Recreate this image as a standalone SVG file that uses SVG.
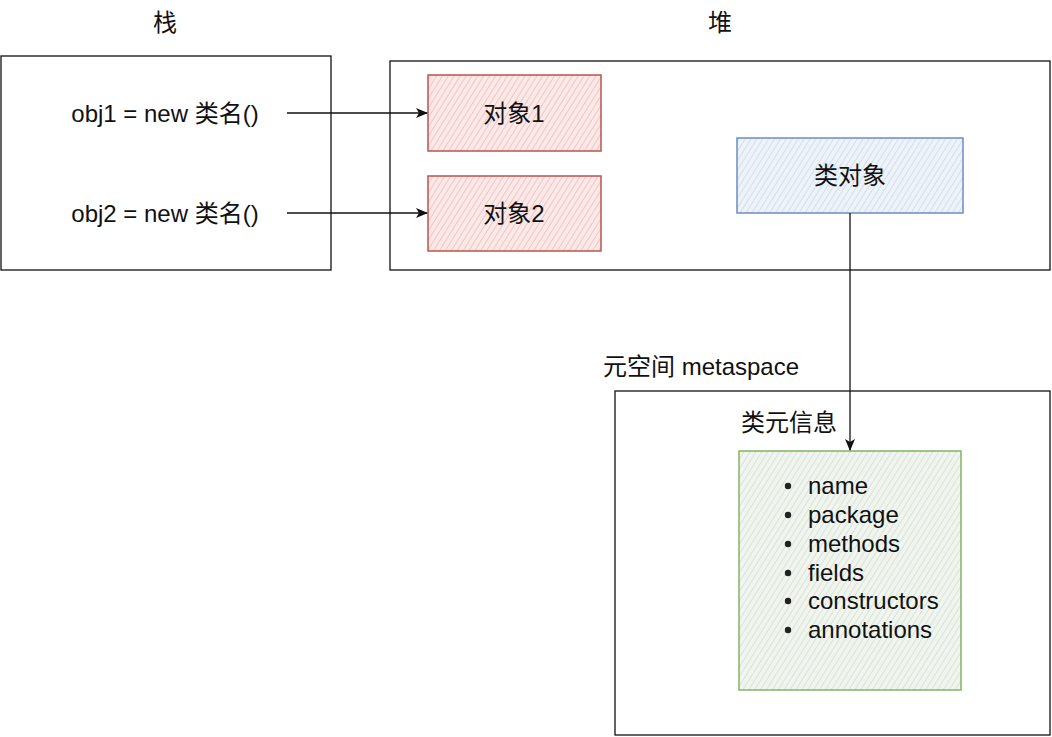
<svg xmlns="http://www.w3.org/2000/svg" width="1052" height="737" viewBox="0 0 1052 737">
<style>
.t{font-family:"Liberation Sans","Noto Sans CJK SC",sans-serif;font-size:24px;fill:#111;}
.c{text-anchor:middle;dominant-baseline:central;}
.frame{fill:#fff;stroke:#111;stroke-width:1.3;}
.edge{stroke:#111;stroke-width:1.3;fill:none;}
</style>
<defs>
<pattern id="hr" width="5" height="5" patternUnits="userSpaceOnUse" patternTransform="rotate(32)">
<rect width="5" height="5" fill="#fbe9e8"/><line x1="0" y1="0" x2="0" y2="5" stroke="#e9a8a4" stroke-width="1.1"/></pattern>
<pattern id="hb" width="5" height="5" patternUnits="userSpaceOnUse" patternTransform="rotate(32)">
<rect width="5" height="5" fill="#eef3fa"/><line x1="0" y1="0" x2="0" y2="5" stroke="#bccee6" stroke-width="1.1"/></pattern>
<pattern id="hg" width="5" height="5" patternUnits="userSpaceOnUse" patternTransform="rotate(32)">
<rect width="5" height="5" fill="#f1f5ef"/><line x1="0" y1="0" x2="0" y2="5" stroke="#c8d5c1" stroke-width="1.1"/></pattern>
<marker id="ah" viewBox="0 0 12 12" refX="11" refY="6" markerWidth="12" markerHeight="12" markerUnits="userSpaceOnUse" orient="auto">
<path d="M0,1 L12,6 L0,11 L3,6 Z" fill="#111"/></marker>
</defs>
<rect width="1052" height="737" fill="#fff"/>

<g id="stack">
<text class="t c" x="165" y="22">栈</text>
<rect class="frame" x="1" y="56" width="330" height="214"/>
<text class="t c" x="165" y="113">obj1 = new 类名()</text>
<text class="t c" x="165" y="213">obj2 = new 类名()</text>
</g>

<g id="heap">
<text class="t c" x="720" y="22">堆</text>
<rect class="frame" x="390" y="61" width="660" height="209"/>
</g>

<g id="obj1">
<rect x="428" y="75" width="173" height="76" fill="url(#hr)" stroke="#b85450" stroke-width="1.5"/>
<text class="t c" x="514" y="113">对象1</text>
</g>
<g id="obj2">
<rect x="428" y="176" width="173" height="75" fill="url(#hr)" stroke="#b85450" stroke-width="1.5"/>
<text class="t c" x="514" y="213">对象2</text>
</g>
<g id="classobj">
<rect x="737" y="138" width="226" height="75" fill="url(#hb)" stroke="#6c8ebf" stroke-width="1.5"/>
<text class="t c" x="850" y="175">类对象</text>
</g>

<g id="metaspace">
<text class="t" x="603" y="375">元空间 metaspace</text>
<rect class="frame" x="615" y="391" width="435" height="344"/>
</g>

<g id="classmeta">
<text class="t" x="741" y="431">类元信息</text>
<rect x="739" y="451" width="222" height="239" fill="url(#hg)" stroke="#82b366" stroke-width="1.5"/>
<g class="t" fill="#222">
<circle cx="788" cy="486" r="3.2" fill="#222"/><text x="808" y="494">name</text>
<circle cx="788" cy="515" r="3.2" fill="#222"/><text x="808" y="523">package</text>
<circle cx="788" cy="544" r="3.2" fill="#222"/><text x="808" y="552">methods</text>
<circle cx="788" cy="573" r="3.2" fill="#222"/><text x="808" y="581">fields</text>
<circle cx="788" cy="601" r="3.2" fill="#222"/><text x="808" y="609">constructors</text>
<circle cx="788" cy="630" r="3.2" fill="#222"/><text x="808" y="638">annotations</text>
</g>
</g>

<g id="connectors">
<line class="edge" x1="287" y1="113" x2="427" y2="113" marker-end="url(#ah)"/>
<line class="edge" x1="287" y1="213" x2="427" y2="213" marker-end="url(#ah)"/>
<line class="edge" x1="850" y1="213" x2="850" y2="450" marker-end="url(#ah)"/>
</g>
</svg>
